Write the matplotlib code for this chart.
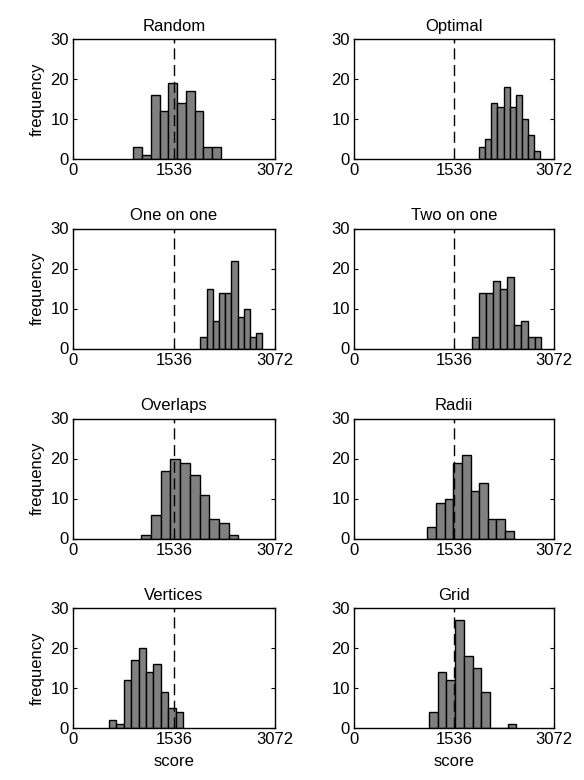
import numpy as np
import matplotlib
matplotlib.use("Agg")
import matplotlib.pyplot as plt

plt.rcParams['font.family'] = ['Liberation Sans', 'DejaVu Sans']

titles = ["Random", "Optimal", "One on one", "Two on one",
          "Overlaps", "Radii", "Vertices", "Grid"]

# histogram ranges (min, max of scores) and counts in 10 bins
ranges = [(917, 2251), (1920, 2862), (1936, 2879), (1820, 2880),
          (1041, 2513), (1126, 2453), (544, 1675), (1151, 2494)]

counts = [
    [3, 1, 16, 12, 19, 14, 17, 12, 3, 3],
    [3, 5, 14, 13, 18, 13, 16, 10, 6, 2],
    [3, 15, 7, 14, 14, 22, 8, 10, 3, 4],
    [3, 14, 14, 17, 15, 18, 6, 7, 3, 3],
    [1, 6, 17, 20, 19, 16, 11, 5, 4, 1],
    [3, 9, 10, 19, 21, 12, 14, 5, 5, 2],
    [2, 1, 12, 17, 20, 14, 16, 9, 5, 4],
    [4, 14, 12, 27, 18, 15, 9, 0, 0, 1],
]

ref_score = 1536
x_max = 3072
xticks = [0, 1536, 3072]
yticks = [0, 10, 20, 30]

W, H = 584, 780
fig = plt.figure(figsize=(W / 100, H / 100), dpi=100)

col_left = [73, 354]
col_width = [202, 200]
row_top = [39, 228.5, 418.5, 608]
ax_h = 120

for i in range(8):
    r, c = divmod(i, 2)
    ax = fig.add_axes([col_left[c] / W, 1 - (row_top[r] + ax_h) / H,
                       col_width[c] / W, ax_h / H])
    lo, hi = ranges[i]
    edges = np.linspace(lo, hi, len(counts[i]) + 1)
    ax.bar(edges[:-1], counts[i], width=np.diff(edges), align='edge',
           color='#808080', edgecolor='black', linewidth=1.0)
    ax.axvline(ref_score, color='black', linestyle=(0, (8, 4)), linewidth=1.0)
    ax.set_xlim(0, x_max)
    ax.set_ylim(0, 30)
    ax.set_xticks(xticks)
    ax.set_yticks(yticks)
    ax.tick_params(direction='in', top=True, right=True, labelsize=12,
                   length=3, pad=3)
    ax.set_title(titles[i], fontsize=12, pad=6)
    if c == 0:
        ax.set_ylabel("frequency", fontsize=12, labelpad=4)
    if r == 3:
        ax.set_xlabel("score", fontsize=12, labelpad=5)
    for s in ax.spines.values():
        s.set_linewidth(1.0)

fig.savefig("out.png", dpi=100)
